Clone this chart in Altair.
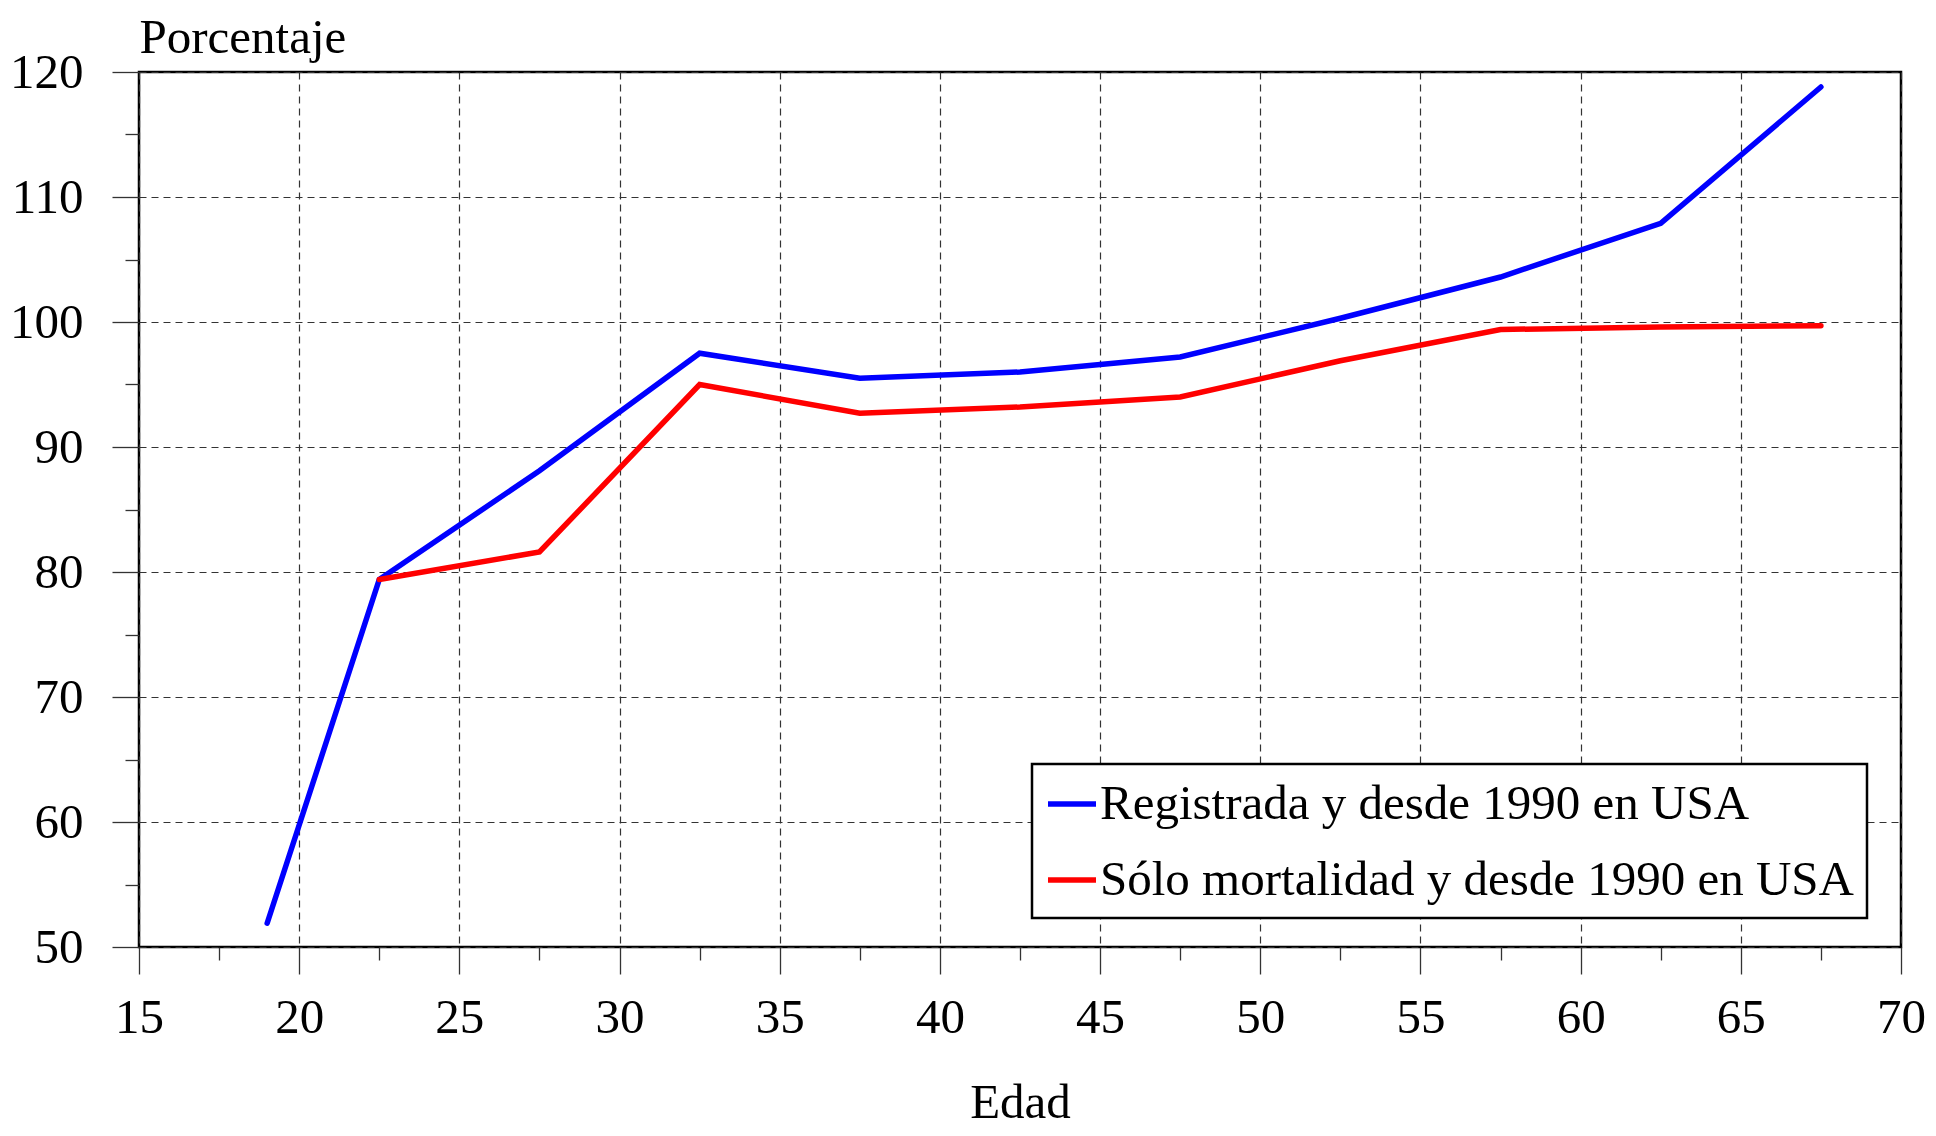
import altair as alt
import pandas as pd

# --- data ---
series_names = ["Registrada y desde 1990 en USA", "Sólo mortalidad y desde 1990 en USA"]
series_colors = ["#0000ff", "#ff0000"]

ages_registrada = [19.0, 22.5, 27.5, 32.5, 37.5, 42.5, 47.5, 52.5, 57.5, 62.5, 67.5]
vals_registrada = [51.9, 79.4, 88.1, 97.5, 95.5, 96.0, 97.2, 100.3, 103.6, 107.9, 118.8]

ages_mortalidad = [22.5, 27.5, 32.5, 37.5, 42.5, 47.5, 52.5, 57.5, 62.5, 67.5]
vals_mortalidad = [79.4, 81.6, 95.0, 92.7, 93.2, 94.0, 96.9, 99.4, 99.6, 99.7]

x_ticks = [15 + 2.5 * i for i in range(23)]   # 15 .. 70, majors every 5
y_ticks = [50 + 5 * i for i in range(15)]     # 50 .. 120, majors every 10

x_title = "Edad"
y_title = "Porcentaje"

df = pd.concat([
    pd.DataFrame({"edad": ages_registrada, "pct": vals_registrada, "serie": series_names[0], "orden": range(len(ages_registrada))}),
    pd.DataFrame({"edad": ages_mortalidad, "pct": vals_mortalidad, "serie": series_names[1], "orden": range(len(ages_mortalidad))}),
])

FONT = "Liberation Serif"
FS = 49

x_axis = alt.Axis(
    values=x_ticks,
    title=x_title,
    labelExpr="datum.value % 5 === 0 ? datum.label : ''",
    tickSize={"condition": {"test": "datum.value % 5 === 0", "value": 27}, "value": 13},
    gridOpacity={"condition": {"test": "datum.value % 5 === 0", "value": 1}, "value": 0},
    labelPadding=19,
    labelFlush=False,
    labelOverlap=False,
    titleY=170,
    titleBaseline="alphabetic",
)
y_axis = alt.Axis(
    values=y_ticks,
    title=y_title,
    labelExpr="datum.value % 10 === 0 ? datum.label : ''",
    tickSize={"condition": {"test": "datum.value % 10 === 0", "value": 27}, "value": 14},
    gridOpacity={"condition": {"test": "datum.value % 10 === 0", "value": 1}, "value": 0},
    labelPadding=29,
    labelFlush=False,
    labelOverlap=False,
    titleAngle=0,
    titleAlign="left",
    titleBaseline="alphabetic",
    titleX=0,
    titleY=-20,
)

chart = alt.Chart(df).mark_line(strokeWidth=5.5, strokeCap="round", strokeJoin="miter").encode(
    x=alt.X("edad:Q", scale=alt.Scale(domain=[15, 70], nice=False, zero=False), axis=x_axis),
    y=alt.Y("pct:Q", scale=alt.Scale(domain=[50, 120], nice=False, zero=False), axis=y_axis),
    color=alt.Color(
        "serie:N",
        sort=series_names,
        scale=alt.Scale(domain=series_names, range=series_colors),
        legend=alt.Legend(
            title=None,
            orient="none",
            legendX=893,
            legendY=692,
            symbolType="stroke",
            symbolSize=2304,
            symbolStrokeWidth=5.5,
            labelFont=FONT,
            labelFontSize=FS,
            labelColor="black",
            labelOffset=1,
            labelLimit=2000,
            rowPadding=24,
            padding=13,
            strokeColor="black",
            fillColor="white",
        ),
    ),
    order="orden:Q",
).properties(
    width=1762,
    height=875,
    autosize=alt.AutoSizeParams(type="none"),
    padding={"left": 131, "top": 64, "right": 27, "bottom": 181},
).configure_view(
    stroke="black",
    strokeWidth=2.5,
).configure_axis(
    domain=False,
    grid=True,
    gridColor="#333333",
    gridDash=[7, 5],
    gridWidth=1.2,
    tickColor="#333333",
    tickWidth=1.3,
    labelFont=FONT,
    labelFontSize=FS,
    labelColor="black",
    titleFont=FONT,
    titleFontSize=FS,
    titleFontWeight="normal",
    titleColor="black",
).configure_legend(
    strokeWidth=2.5,
)

chart.save("out.html", embed_options={"renderer": "svg", "actions": False})
